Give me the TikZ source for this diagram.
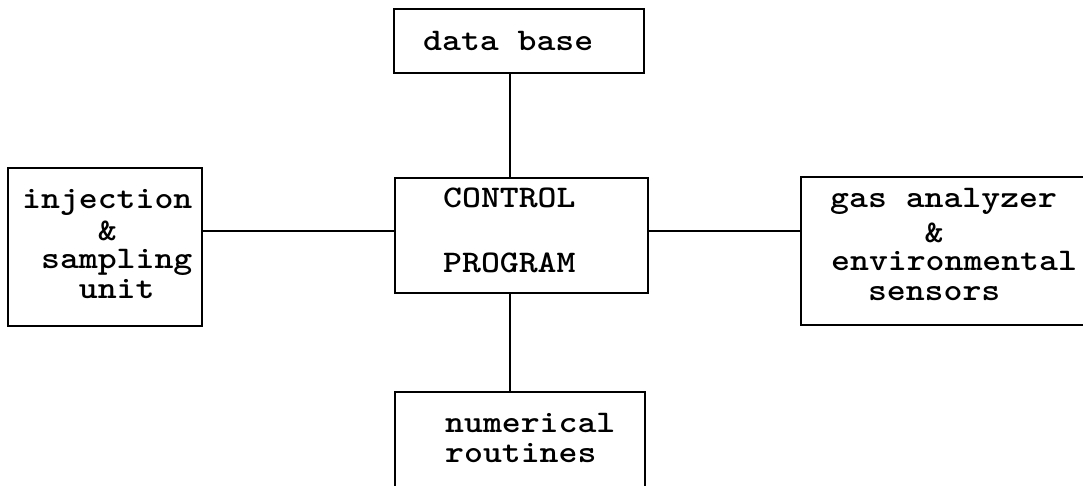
\documentclass[tikz,border=0pt]{standalone}
\usepackage{fontspec}
\newfontfamily\typefont{lmmonolt10-bold.otf}[FakeStretch=1.143]
\begin{document}
\begin{tikzpicture}[x=1pt,y=-1pt,
  box/.style={draw=black, line width=2.2pt, fill=none, inner sep=0pt},
  wire/.style={draw=black, line width=2.2pt},
  lbl/.style={anchor=base west, inner sep=0pt, font=\typefont\fontsize{31.5}{30}\selectfont}]
\useasboundingbox (0,0) rectangle (1083,485);
% boxes
\node[box, minimum width=250pt, minimum height=64pt]  (db)   at (519,41)    {};
\node[box, minimum width=253pt, minimum height=115pt] (ctrl) at (521.5,235.5) {};
\node[box, minimum width=194pt, minimum height=158pt] (inj)  at (105,247)   {};
\node[box, minimum width=289pt, minimum height=148pt] (gas)  at (945.5,251) {};
\node[box, minimum width=250pt, minimum height=103pt] (num)  at (520,443.5) {};
% texts
\node[lbl] (tdb)  at (423,50)  {data base};
\node[lbl] (tc1)  at (443,207) {CONTROL};
\node[lbl] (tc2)  at (443,272) {PROGRAM};
\node[lbl] (ti1)  at (22,208)  {injection};
\node[lbl] (ti2)  at (22,240)  {~~~~\&};
\node[lbl] (ti3)  at (22,268)  {~sampling};
\node[lbl] (ti4)  at (22,298)  {~~~unit};
\node[lbl] (tg1)  at (830,207) {gas analyzer};
\node[lbl] (tg2)  at (830,242) {~~~~~\&};
\node[lbl] (tg3)  at (831,270) {environmental};
\node[lbl] (tg4)  at (830,300) {~~sensors};
\node[lbl] (tn1)  at (445,432) {numerical};
\node[lbl] (tn2)  at (445,462) {routines};
% connectors
\coordinate (vx) at (510,0);
\coordinate (hy) at (0,231);
\draw[wire] (db.south -| vx) -- (ctrl.north -| vx);
\draw[wire] (ctrl.south -| vx) -- (num.north -| vx);
\draw[wire] (inj.east |- hy) -- (ctrl.west |- hy);
\draw[wire] (ctrl.east |- hy) -- (gas.west |- hy);
\end{tikzpicture}
\end{document}
